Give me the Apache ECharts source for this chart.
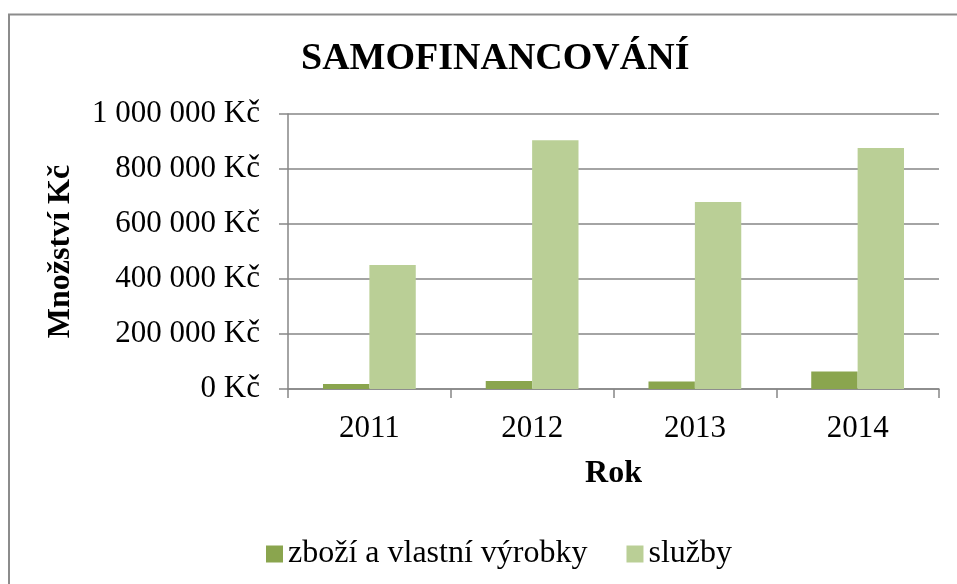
<!DOCTYPE html>
<html>
<head>
<meta charset="utf-8">
<script src="https://cdn.jsdelivr.net/npm/echarts@6/dist/echarts.min.js"></script>
<style>
    html, body { margin: 0; padding: 0; background: #fff; }
    #chart { width: 957px; height: 584px; }
</style>
</head>
<body>
<div id="chart"></div>
<script>
    // data
    var years = ['2011', '2012', '2013', '2014']
    var zbozi = [18000, 29000, 27000, 64000] // zboží a vlastní výrobky
    var sluzby = [451000, 905000, 680000, 876000] // služby
    var yTicks = [0, 200000, 400000, 600000, 800000, 1000000]

    function fmtKc (v) {
        // 1 000 000 Kč
        return String(v).replace(/\B(?=(\d{3})+(?!\d))/g, ' ') + ' Kč'
    }

    var serif = '"Liberation Serif", "DejaVu Serif", serif'
    var chart = echarts.init(document.getElementById('chart'))
    var option = {
        animation: false,
        backgroundColor: '#fff',
        graphic: [{
            // chart frame, cut off at right and bottom in the original
            type: 'rect',
            shape: { x: 9, y: 14.5, width: 1000, height: 600 },
            style: { fill: 'none', stroke: '#8c8c8c', lineWidth: 2 }
        }],
        title: {
            text: 'SAMOFINANCOVÁNÍ',
            left: 296,
            top: 35,
            textStyle: { fontFamily: serif, fontSize: 38, fontWeight: 'bold', color: '#000' }
        },
        legend: {
            data: ['zboží a vlastní výrobky', 'služby'],
            top: 533,
            left: 261,
            icon: 'rect',
            itemWidth: 17,
            itemHeight: 17,
            itemGap: 39,
            textStyle: { fontFamily: serif, fontSize: 32, color: '#000' }
        },
        grid: {
            left: 288,
            right: 18,
            top: 114,
            bottom: 195
        },
        xAxis: {
            type: 'category',
            data: years,
            name: 'Rok',
            nameLocation: 'middle',
            nameGap: 69,
            nameTextStyle: { fontFamily: serif, fontSize: 32, fontWeight: 'bold', color: '#000' },
            axisLine: { lineStyle: { color: '#868686', width: 1.5 } },
            axisTick: { show: true, length: 9, lineStyle: { color: '#868686', width: 1.5 } },
            axisLabel: { fontFamily: serif, fontSize: 31, color: '#000', margin: 24 }
        },
        yAxis: {
            type: 'value',
            min: yTicks[0],
            max: yTicks[yTicks.length - 1],
            interval: yTicks[1] - yTicks[0],
            name: 'Množství Kč',
            nameLocation: 'middle',
            nameGap: 211,
            nameRotate: 90,
            nameTextStyle: { fontFamily: serif, fontSize: 32, fontWeight: 'bold', color: '#000' },
            axisLine: { show: true, lineStyle: { color: '#868686', width: 1.5 } },
            axisTick: { show: true, length: 9, lineStyle: { color: '#868686', width: 1.5 } },
            axisLabel: { fontFamily: serif, fontSize: 31, color: '#000', margin: 28, formatter: fmtKc },
            splitLine: { lineStyle: { color: '#868686', width: 1.5 } }
        },
        series: [
            {
                name: 'zboží a vlastní výrobky',
                type: 'bar',
                data: zbozi,
                barGap: 0,
                barCategoryGap: '43%',
                itemStyle: { color: '#8AA54E' }
            },
            {
                name: 'služby',
                type: 'bar',
                data: sluzby,
                barGap: 0,
                barCategoryGap: '43%',
                itemStyle: { color: '#BACF96' }
            }
        ]
    }
    chart.setOption(option)
</script>
</body>
</html>
